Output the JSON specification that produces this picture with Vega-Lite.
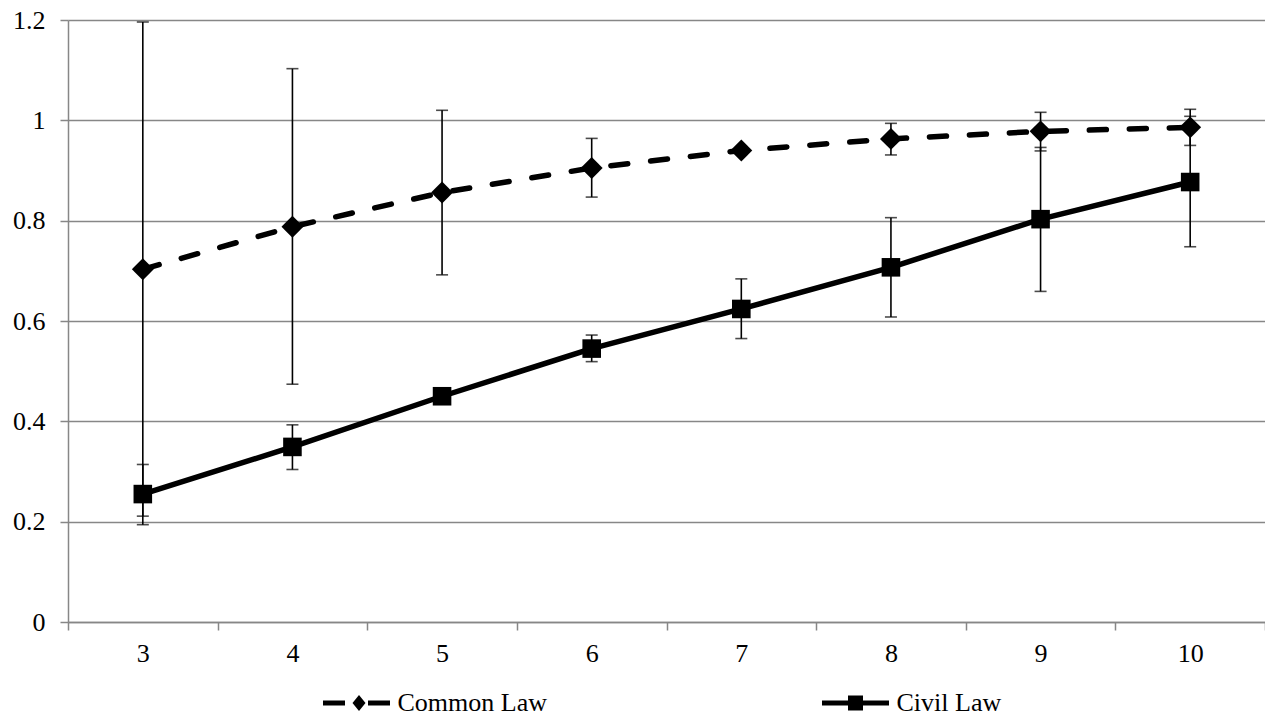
{
  "$schema": "https://vega.github.io/schema/vega-lite/v6.json",
  "width": 1197,
  "height": 602,
  "autosize": {"type": "none"},
  "padding": {"left": 68, "top": 20, "right": 0, "bottom": 95},
  "background": "white",
  "config": {
    "view": {"stroke": null},
    "font": "Liberation Serif",
    "axis": {
      "labelFont": "Liberation Serif",
      "labelFontSize": 26,
      "labelColor": "black",
      "domainColor": "#878787",
      "domainWidth": 1.5,
      "tickColor": "#878787",
      "tickWidth": 1.5,
      "tickSize": 8,
      "gridColor": "#878787",
      "gridWidth": 1.4,
      "title": null
    },
    "legend": {
      "title": null,
      "orient": "none",
      "legendX": 255,
      "legendY": 670,
      "padding": 0,
      "direction": "horizontal",
      "labelFont": "Liberation Serif",
      "labelFontSize": 26,
      "labelColor": "black",
      "symbolSize": 400,
      "symbolFillColor": "black",
      "symbolStrokeWidth": 0,
      "symbolOpacity": 1,
      "symbolOffset": 20.5,
      "labelOffset": 28,
      "columnPadding": 275
    }
  },
  "data": {
    "values": [
      {"k": 3, "series": "Common Law", "v": 0.703, "lo": 0.211, "hi": 1.196},
      {"k": 4, "series": "Common Law", "v": 0.788, "lo": 0.474, "hi": 1.103},
      {"k": 5, "series": "Common Law", "v": 0.856, "lo": 0.692, "hi": 1.02},
      {"k": 6, "series": "Common Law", "v": 0.905, "lo": 0.847, "hi": 0.964},
      {"k": 7, "series": "Common Law", "v": 0.94, "lo": 0.933, "hi": 0.947},
      {"k": 8, "series": "Common Law", "v": 0.963, "lo": 0.931, "hi": 0.994},
      {"k": 9, "series": "Common Law", "v": 0.978, "lo": 0.939, "hi": 1.016},
      {"k": 10, "series": "Common Law", "v": 0.986, "lo": 0.95, "hi": 1.022},
      {"k": 3, "series": "Civil Law", "v": 0.255, "lo": 0.194, "hi": 0.314},
      {"k": 4, "series": "Civil Law", "v": 0.349, "lo": 0.304, "hi": 0.393},
      {"k": 5, "series": "Civil Law", "v": 0.45, "lo": 0.438, "hi": 0.462},
      {"k": 6, "series": "Civil Law", "v": 0.545, "lo": 0.519, "hi": 0.572},
      {"k": 7, "series": "Civil Law", "v": 0.624, "lo": 0.565, "hi": 0.684},
      {"k": 8, "series": "Civil Law", "v": 0.707, "lo": 0.608, "hi": 0.806},
      {"k": 9, "series": "Civil Law", "v": 0.803, "lo": 0.659, "hi": 0.946},
      {"k": 10, "series": "Civil Law", "v": 0.877, "lo": 0.748, "hi": 1.008}
    ]
  },
  "encoding": {
    "x": {
      "field": "k",
      "type": "ordinal",
      "scale": {"type": "band", "paddingInner": 0, "paddingOuter": 0},
      "axis": {"labelAngle": 0, "tickBand": "extent", "grid": false, "labelPadding": 10}
    }
  },
  "layer": [
    {
      "transform": [{"filter": "datum.series === 'Common Law'"}],
      "mark": {"type": "line", "color": "black", "strokeWidth": 5.5, "strokeCap": "round", "strokeJoin": "round", "strokeDash": [17, 23]},
      "encoding": {
        "y": {
          "field": "v",
          "type": "quantitative",
          "scale": {"domain": [0, 1.2], "nice": false, "zero": true},
          "axis": {"values": [0, 0.2, 0.4, 0.6, 0.8, 1, 1.2], "format": "~g", "grid": true, "labelPadding": 15}
        }
      }
    },
    {
      "transform": [{"filter": "datum.series === 'Civil Law'"}],
      "mark": {"type": "line", "color": "black", "strokeWidth": 5.5, "strokeCap": "round", "strokeJoin": "round"},
      "encoding": {
        "y": {"field": "v", "type": "quantitative"}
      }
    },
    {
      "mark": {"type": "rule", "color": "black", "strokeWidth": 1.6},
      "encoding": {
        "y": {"field": "lo", "type": "quantitative"},
        "y2": {"field": "hi"}
      }
    },
    {
      "mark": {"type": "tick", "color": "black", "thickness": 1.6, "size": 12},
      "encoding": {"y": {"field": "lo", "type": "quantitative"}}
    },
    {
      "mark": {"type": "tick", "color": "black", "thickness": 1.6, "size": 12},
      "encoding": {"y": {"field": "hi", "type": "quantitative"}}
    },
    {
      "transform": [{"filter": "datum.series === 'Common Law'"}],
      "mark": {"type": "point", "filled": true, "color": "black", "opacity": 1, "size": 480, "shape": "diamond"},
      "encoding": {
        "y": {"field": "v", "type": "quantitative"}
      }
    },
    {
      "transform": [{"filter": "datum.series === 'Civil Law'"}],
      "mark": {"type": "point", "filled": true, "color": "black", "opacity": 1, "size": 345, "shape": "square"},
      "encoding": {
        "y": {"field": "v", "type": "quantitative"}
      }
    },
    {
      "mark": {"type": "point", "filled": true, "color": "black", "opacity": 0, "size": 400},
      "encoding": {
        "y": {"field": "v", "type": "quantitative"},
        "shape": {
          "field": "series",
          "type": "nominal",
          "scale": {
            "domain": ["Common Law", "Civil Law"],
            "range": [
              "M-3.35,-0.25 L-1.15,-0.25 L-1.15,0.25 L-3.35,0.25 Z M-0.4,0 L0.25,-0.8 L0.9,0 L0.25,0.8 Z M1.15,-0.25 L3.35,-0.25 L3.35,0.25 L1.15,0.25 Z",
              "M-3.35,-0.25 L3.35,-0.25 L3.35,0.25 L-3.35,0.25 Z M-0.75,-0.75 L0.75,-0.75 L0.75,0.75 L-0.75,0.75 Z"
            ]
          },
          "legend": {
            "symbolOpacity": 1,
            "symbolFillColor": "black",
            "symbolSize": 400,
            "symbolStrokeWidth": 0
          }
        }
      }
    }
  ]
}
